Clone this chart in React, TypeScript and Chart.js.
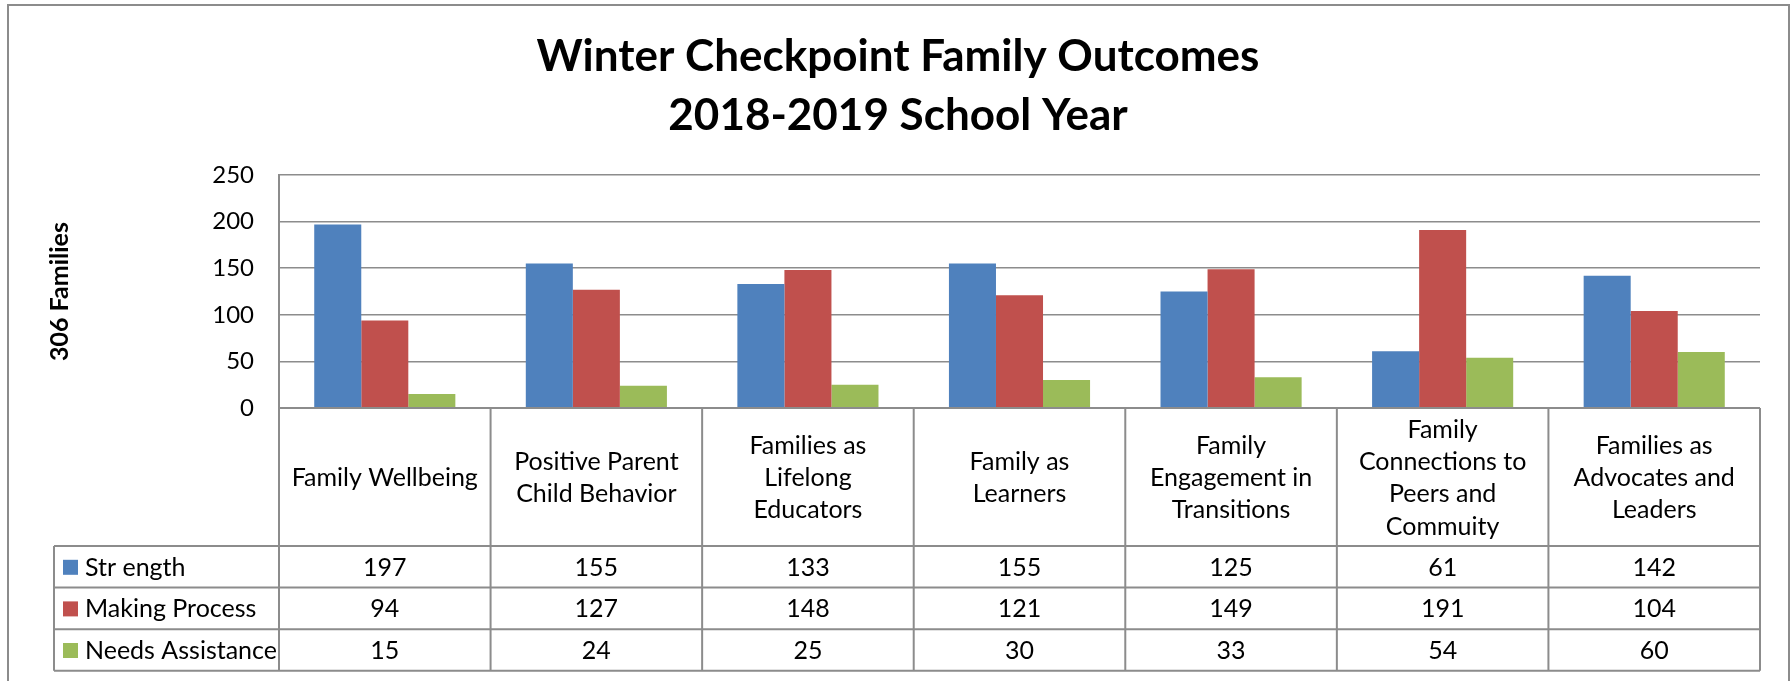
import React, { useEffect, useRef } from 'react';
import { Chart, registerables } from 'chart.js';

Chart.register(...registerables);

// ---------- data ----------
const titleLines = ['Winter Checkpoint Family Outcomes', '2018-2019 School Year'];
const yAxisTitle = '306 Families';
const categories: string[][] = [
  ['Family Wellbeing'],
  ['Positive Parent', 'Child Behavior'],
  ['Families as', 'Lifelong', 'Educators'],
  ['Family as', 'Learners'],
  ['Family', 'Engagement in', 'Transitions'],
  ['Family', 'Connections to', 'Peers and', 'Commuity'],
  ['Families as', 'Advocates and', 'Leaders'],
];
const seriesNames = ['Str ength', 'Making Process', 'Needs Assistance'];
const strength = [197, 155, 133, 155, 125, 61, 142];
const makingProcess = [94, 127, 148, 121, 149, 191, 104];
const needsAssistance = [15, 24, 25, 30, 33, 54, 60];
const seriesColors = ['#4F81BD', '#C0504D', '#9BBB59'];
const yMin = 0;
const yMax = 250;
const yStep = 50;

const FONT = "Lato, 'Open Sans', sans-serif";
const LINE = '#8c8c8c';

const tablePlugin = {
  id: 'dataTable',
  afterDraw(chart: any) {
    const ctx: CanvasRenderingContext2D = chart.ctx;
    const xs = chart.scales.x;
    const area = chart.chartArea;
    const n = categories.length;
    const bounds: number[] = [];
    for (let i = 0; i <= n; i++) bounds.push(xs.getPixelForValue(i - 0.5));
    const series = [strength, makingProcess, needsAssistance];

    const headerTop = area.bottom;
    const headerBottom = 546;
    const rowH = 41.6;
    const rows = [0, 1, 2, 3].map((k) => headerBottom + k * rowH);
    const legendLeft = 54;

    ctx.save();
    // outer chart border
    ctx.strokeStyle = LINE;
    ctx.lineWidth = 2;
    ctx.strokeRect(8, 5, 1781, 720);

    // title
    ctx.fillStyle = '#000';
    ctx.textAlign = 'center';
    ctx.textBaseline = 'alphabetic';
    ctx.font = `bold 44px ${FONT}`;
    ctx.fillText(titleLines[0], 898, 71);
    ctx.fillText(titleLines[1], 898, 130);

    // table lines
    ctx.strokeStyle = LINE;
    ctx.lineWidth = 2;
    ctx.beginPath();
    ctx.moveTo(bounds[0], headerTop);
    ctx.lineTo(bounds[n], headerTop);
    rows.forEach((y) => {
      ctx.moveTo(legendLeft, y);
      ctx.lineTo(bounds[n], y);
    });
    bounds.forEach((x) => {
      ctx.moveTo(x, headerTop);
      ctx.lineTo(x, rows[3]);
    });
    ctx.moveTo(legendLeft, rows[0]);
    ctx.lineTo(legendLeft, rows[3]);
    ctx.stroke();

    // category labels
    ctx.font = `25px ${FONT}`;
    ctx.textBaseline = 'middle';
    ctx.textAlign = 'center';
    const lh = 32.3;
    const headerMid = (headerTop + headerBottom) / 2;
    categories.forEach((lines, i) => {
      const cx = xs.getPixelForValue(i);
      const start = headerMid - ((lines.length - 1) * lh) / 2;
      lines.forEach((t, j) => ctx.fillText(t, cx, start + j * lh + 1));
    });

    // data rows
    series.forEach((vals, k) => {
      const cy = (rows[k] + rows[k + 1]) / 2 + 1;
      ctx.fillStyle = seriesColors[k];
      ctx.fillRect(63, cy - 8, 15, 15);
      ctx.fillStyle = '#000';
      ctx.textAlign = 'left';
      ctx.fillText(seriesNames[k], 85, cy);
      ctx.textAlign = 'center';
      vals.forEach((v, i) => ctx.fillText(String(v), xs.getPixelForValue(i), cy));
    });
    ctx.restore();
  },
};

export default function App() {
  const ref = useRef<HTMLCanvasElement>(null);
  useEffect(() => {
    document.body.style.margin = '0';
    const canvas = ref.current!;
    const chart = new Chart(canvas, {
      type: 'bar',
      data: {
        labels: categories.map((c) => c.join(' ')),
        datasets: [strength, makingProcess, needsAssistance].map((d, k) => ({
          label: seriesNames[k],
          data: d,
          backgroundColor: seriesColors[k],
          borderWidth: 0,
          categoryPercentage: 0.667,
          barPercentage: 1.0,
        })),
      },
      options: {
        responsive: false,
        animation: false,
        layout: { padding: { left: 0, top: 175, right: 32, bottom: 273 } },
        plugins: {
          legend: { display: false },
          title: { display: false },
          tooltip: { enabled: false },
        },
        scales: {
          x: {
            display: false,
          },
          y: {
            min: yMin,
            max: yMax,
            ticks: {
              stepSize: yStep,
              color: '#000',
              padding: 25,
              font: { family: FONT, size: 24 },
            },
            grid: { color: LINE, lineWidth: 1.5, drawTicks: false },
            border: { display: true, color: LINE, width: 2 },
            title: {
              display: true,
              text: yAxisTitle,
              color: '#000',
              font: { family: FONT, size: 25, weight: 'bold' },
              padding: { top: 45, bottom: 0 },
            },
            afterFit: (scale: any) => {
              scale.width = 279;
            },
          },
        },
      },
      plugins: [tablePlugin],
    });
    return () => chart.destroy();
  }, []);
  return <canvas ref={ref} width={1792} height={681} style={{ display: 'block' }} />;
}
